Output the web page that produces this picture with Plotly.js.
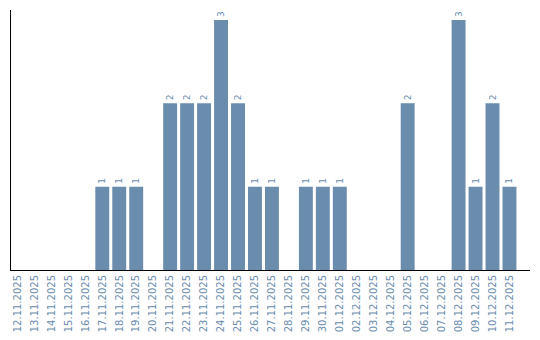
<!DOCTYPE html>
<html><head><meta charset="utf-8">
<script src="https://cdn.plot.ly/plotly-3.0.1.min.js"></script>
<style>body{margin:0;background:#fff}#c{width:540px;height:340px}</style>
</head><body><div id="c"></div>
<script>
const dates = ["12.11.2025","13.11.2025","14.11.2025","15.11.2025","16.11.2025","17.11.2025","18.11.2025","19.11.2025","20.11.2025","21.11.2025","22.11.2025","23.11.2025","24.11.2025","25.11.2025","26.11.2025","27.11.2025","28.11.2025","29.11.2025","30.11.2025","01.12.2025","02.12.2025","03.12.2025","04.12.2025","05.12.2025","06.12.2025","07.12.2025","08.12.2025","09.12.2025","10.12.2025","11.12.2025"];
const counts = [0,0,0,0,0,1,1,1,0,2,2,2,3,2,1,1,0,1,1,1,0,0,0,2,0,0,3,1,2,1];
const labels = counts.map(v => v > 0 ? String(v) : "");
const col = "#6a8cad";
Plotly.newPlot("c", [{
  type: "bar", x: dates, y: counts, text: labels, textposition: "outside",
  textangle: -90, cliponaxis: false, width: 0.82,
  textfont: {family: "DejaVu Sans", size: 9, color: col},
  marker: {color: col}, hoverinfo: "none"
}], {
  width: 540, height: 340,
  margin: {l: 11, r: 10, t: 10, b: 70},
  paper_bgcolor: "#fff", plot_bgcolor: "#fff",
  showlegend: false,
  xaxis: {type: "category", range: [-0.38, 30.21], showline: true, linecolor: "#000", linewidth: 1,
    showgrid: false, ticks: "", tickangle: -90,
    tickfont: {family: "DejaVu Sans", size: 10, color: col}},
  yaxis: {range: [0, 3.12], showline: true, linecolor: "#000", linewidth: 1,
    showgrid: false, zeroline: false, showticklabels: false, ticks: ""}
}, {staticPlot: true});
</script></body></html>
